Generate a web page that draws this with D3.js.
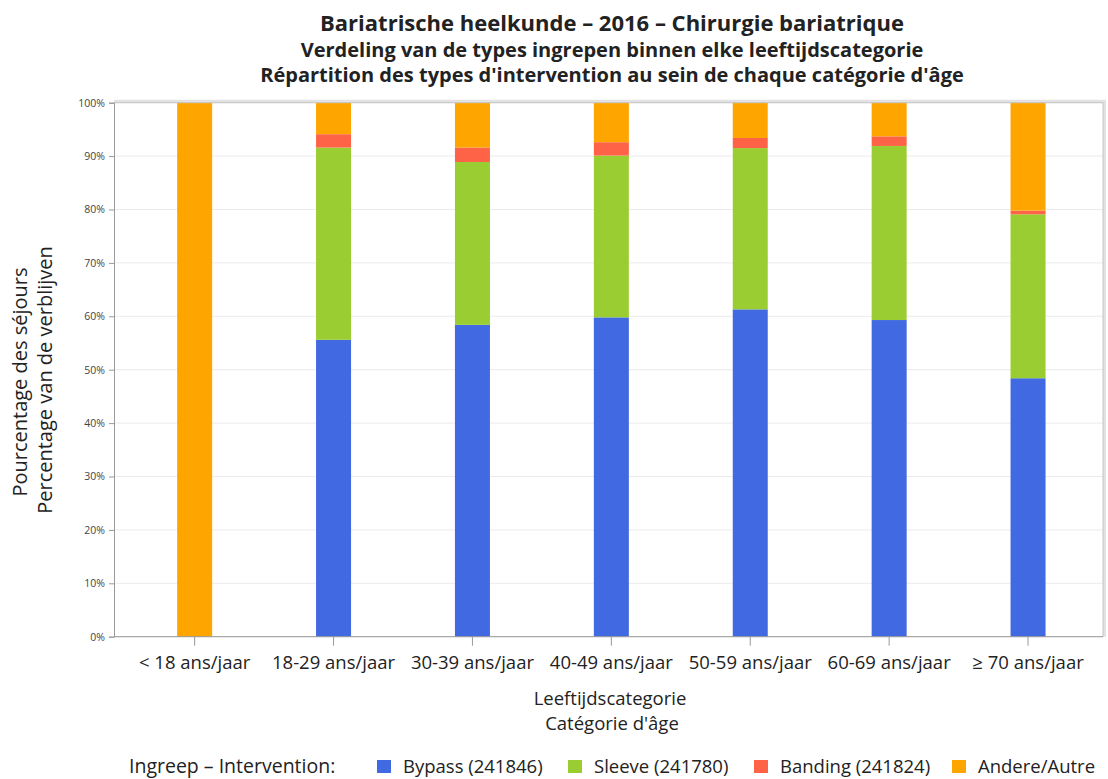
<!DOCTYPE html>
<html>
<head>
<meta charset="utf-8">
<script src="https://cdn.jsdelivr.net/npm/d3@7"></script>
<style>
  body { margin: 0; background: #fff; }
  svg text { font-family: "Open Sans", "DejaVu Sans", sans-serif; fill: #222; }
</style>
</head>
<body>
<div id="chart"></div>
<script>
// age groups
var categories = ["< 18 ans/jaar", "18-29 ans/jaar", "30-39 ans/jaar", "40-49 ans/jaar", "50-59 ans/jaar", "60-69 ans/jaar", "≥ 70 ans/jaar"];

// percentages per type of intervention
var bypass  = [0, 55.6, 58.4, 59.8, 61.3, 59.3, 48.4];
var sleeve  = [0, 36.0, 30.5, 30.3, 30.2, 32.6, 30.7];
var banding = [0, 2.5, 2.7, 2.5, 1.9, 1.8, 0.7];
var andere  = [100, 5.9, 8.4, 7.4, 6.6, 6.3, 20.2];

var seriesNames = ["Bypass (241846)", "Sleeve (241780)", "Banding (241824)", "Andere/Autre"];
var seriesKeys = ["bypass", "sleeve", "banding", "andere"];
var colors = ["#4169E1", "#9ACD32", "#FF6347", "#FFA500"];
var yTicks = [0, 10, 20, 30, 40, 50, 60, 70, 80, 90, 100];

var width = 1108, height = 779;
var plotLeft = 114, plotRight = 1103, plotTop = 102.7, plotBottom = 636.7;

var rows = categories.map(function (c, i) {
  return { cat: c, bypass: bypass[i], sleeve: sleeve[i], banding: banding[i], andere: andere[i] };
});
var stacked = d3.stack().keys(seriesKeys)(rows);

var svg = d3.select("#chart").append("svg")
  .attr("width", width)
  .attr("height", height);

var x = d3.scaleBand()
  .domain(categories)
  .range([125.2, 1097.5])
  .paddingInner(0.748)
  .paddingOuter(0.374);

var y = d3.scaleLinear().domain([0, 100]).range([plotBottom, plotTop]);

// soft shadow along the top / right of the frame
svg.append("path")
  .attr("d", "M" + plotLeft + "," + (plotTop - 1.5) + "H" + (plotRight + 1.5) + "V" + plotBottom)
  .attr("fill", "none")
  .attr("stroke", "#e2e2e2").attr("stroke-width", 3);

// gridlines
svg.append("g")
  .selectAll("line")
  .data(yTicks)
  .join("line")
  .attr("x1", plotLeft).attr("x2", plotRight)
  .attr("y1", d => y(d)).attr("y2", d => y(d))
  .attr("stroke", "#ebebeb").attr("stroke-width", 1);

// bars
svg.append("g")
  .selectAll("g")
  .data(stacked)
  .join("g")
  .attr("fill", (d, i) => colors[i])
  .selectAll("rect")
  .data(d => d)
  .join("rect")
  .attr("x", d => x(d.data.cat))
  .attr("width", x.bandwidth())
  .attr("y", d => y(d[1]))
  .attr("height", d => y(d[0]) - y(d[1]));

// top + right border
svg.append("path")
  .attr("d", "M" + plotLeft + "," + plotTop + "H" + plotRight + "V" + plotBottom)
  .attr("fill", "none")
  .attr("stroke", "#c4c4c4").attr("stroke-width", 1);

// y axis
var yAxis = svg.append("g")
  .attr("transform", "translate(" + plotLeft + ",0)")
  .call(d3.axisLeft(y).tickValues(yTicks).tickSize(5).tickFormat(d => d + "%"));
yAxis.select(".domain").attr("stroke", "#999");
yAxis.selectAll(".tick line").attr("stroke", "#999");
yAxis.selectAll(".tick text")
  .attr("font-size", 10.5).attr("x", -9).style("fill", "#444")
  .style("font-family", "'Open Sans', sans-serif");

// x axis
var xAxis = svg.append("g")
  .attr("transform", "translate(0," + plotBottom + ")")
  .call(d3.axisBottom(x).tickSize(9).tickSizeOuter(0));
xAxis.select(".domain").attr("stroke", "#999").attr("d", "M" + plotLeft + ",0H" + plotRight);
xAxis.selectAll(".tick line").attr("stroke", "#999");
xAxis.selectAll(".tick text")
  .attr("font-size", 18.5).attr("y", 19).style("fill", "#222")
  .style("font-family", "'Open Sans', sans-serif");

// titles
var titles = [
  { t: "Bariatrische heelkunde – 2016 – Chirurgie bariatrique", y: 31, s: 22 },
  { t: "Verdeling van de types ingrepen binnen elke leeftijdscategorie", y: 57, s: 20 },
  { t: "Répartition des types d'intervention au sein de chaque catégorie d'âge", y: 82, s: 20 }
];
svg.append("g")
  .selectAll("text")
  .data(titles)
  .join("text")
  .attr("x", 612).attr("y", d => d.y)
  .attr("text-anchor", "middle")
  .attr("font-size", d => d.s)
  .attr("font-weight", "bold")
  .text(d => d.t);

// axis titles
svg.append("text").attr("x", 610).attr("y", 705).attr("text-anchor", "middle")
  .attr("font-size", 18.5).text("Leeftijdscategorie");
svg.append("text").attr("x", 612).attr("y", 730).attr("text-anchor", "middle")
  .attr("font-size", 18.5).text("Catégorie d'âge");

svg.append("text").attr("transform", "translate(27,382) rotate(-90)")
  .attr("text-anchor", "middle").attr("font-size", 20).text("Pourcentage des séjours");
svg.append("text").attr("transform", "translate(52,380) rotate(-90)")
  .attr("text-anchor", "middle").attr("font-size", 20).text("Percentage van de verblijven");

// legend
var legend = svg.append("g");
legend.append("text").attr("x", 129).attr("y", 773).attr("font-size", 19.5)
  .text("Ingreep – Intervention:");
var legendX = [377, 568, 754, 952];
var item = legend.selectAll("g.item")
  .data(seriesNames)
  .join("g")
  .attr("class", "item")
  .attr("transform", (d, i) => "translate(" + legendX[i] + ",0)");
item.append("rect")
  .attr("x", 0).attr("y", 760).attr("width", 14).attr("height", 13)
  .attr("fill", (d, i) => colors[i]);
item.append("text")
  .attr("x", 26).attr("y", 773).attr("font-size", 18.5)
  .text(d => d);
</script>
</body>
</html>
